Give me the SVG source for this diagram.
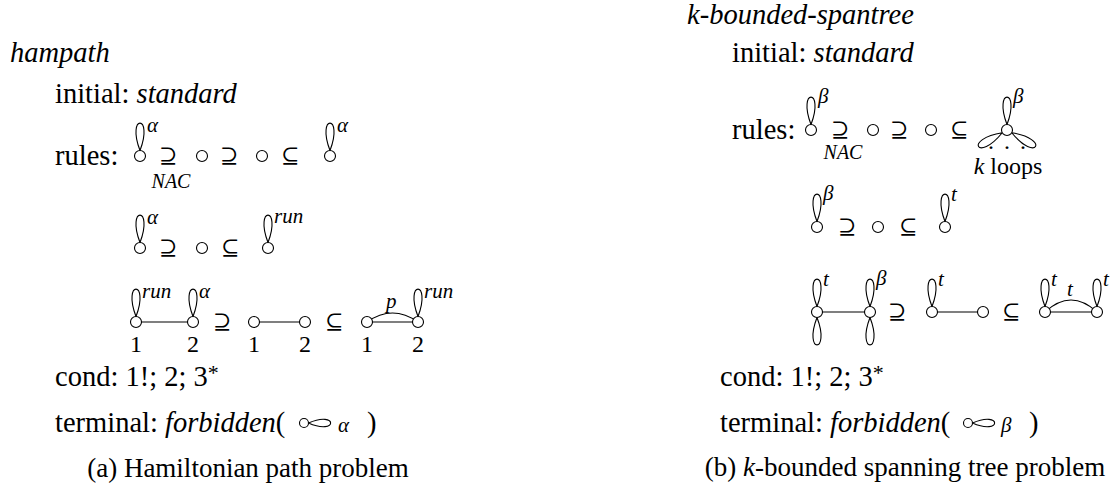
<svg xmlns="http://www.w3.org/2000/svg" xmlns:xlink="http://www.w3.org/1999/xlink" width="1112" height="490" viewBox="0 0 1112 490">
<style>
.t{font-family:"Liberation Serif","DejaVu Serif",serif;font-size:28.5px;fill:#000}
.i{font-style:italic}
.s{font-family:"Liberation Serif","DejaVu Serif",serif;font-size:21px;font-style:italic;fill:#000}
.n{font-family:"Liberation Serif","DejaVu Serif",serif;font-size:24px;fill:#000;text-anchor:middle}
.r{font-family:"DejaVu Serif",serif;font-size:22px;fill:#000}
.nac{font-family:"Liberation Serif",serif;font-size:20px;font-style:italic;fill:#000;text-anchor:middle}
.cap{font-family:"Liberation Serif",serif;font-size:27px;fill:#000;text-anchor:middle}
.v{fill:#fff;stroke:#000;stroke-width:1.1}
.e{fill:none;stroke:#000;stroke-width:1.1}
</style>
<defs>
<path id="pt" d="M0,-5.5 C-14,-42 14,-42 0,-5.5" fill="none" stroke="#000" stroke-width="1.1"/>
<path id="ph" d="M4.5,0 C34,-13 34,13 4.5,0" fill="none" stroke="#000" stroke-width="1.1"/>
</defs>

<!-- LEFT PANEL -->
<text class="t i" x="10" y="62">hampath</text>
<text class="t" x="55" y="103">initial: <tspan class="i">standard</tspan></text>
<text class="t" x="55" y="165">rules:</text>

<g id="connectors-left">
<line class="e" x1="136" y1="322" x2="193" y2="322"/>
<line class="e" x1="254" y1="322" x2="305" y2="322"/>
<line class="e" x1="367" y1="322" x2="418" y2="322"/>
<path class="e" d="M367,322 Q392.5,304 418,322"/>
</g>

<!-- rule 1 -->
<g id="l-r1-v1"><use xlink:href="#pt" x="140" y="156"/><circle class="v" cx="140" cy="156" r="5.5"/><text class="s" x="147" y="132">α</text></g>
<g id="l-r1-sup"><text class="r" x="159" y="163">⊇</text><text class="nac" x="171" y="188">NAC</text></g>
<g id="l-r1-v2"><circle class="v" cx="202" cy="156" r="5.5"/></g>
<g id="l-r1-sup2"><text class="r" x="220" y="163">⊇</text></g>
<g id="l-r1-v3"><circle class="v" cx="262" cy="156" r="5.5"/></g>
<g id="l-r1-sub"><text class="r" x="281" y="163">⊆</text></g>
<g id="l-r1-v4"><use xlink:href="#pt" x="330" y="156"/><circle class="v" cx="330" cy="156" r="5.5"/><text class="s" x="337" y="132">α</text></g>

<!-- rule 2 -->
<g id="l-r2-v1"><use xlink:href="#pt" x="140" y="248"/><circle class="v" cx="140" cy="248" r="5.5"/><text class="s" x="147" y="224">α</text></g>
<g id="l-r2-sup"><text class="r" x="159" y="255">⊇</text></g>
<g id="l-r2-v2"><circle class="v" cx="202" cy="248" r="5.5"/></g>
<g id="l-r2-sub"><text class="r" x="221" y="255">⊆</text></g>
<g id="l-r2-v3"><use xlink:href="#pt" x="268" y="248"/><circle class="v" cx="268" cy="248" r="5.5"/><text class="s" x="274" y="223">run</text></g>

<!-- rule 3 -->
<g id="l-r3-v1"><use xlink:href="#pt" x="136" y="322"/><circle class="v" cx="136" cy="322" r="5.5"/><text class="s" x="142" y="298">run</text><text class="n" x="136" y="352">1</text></g>
<g id="l-r3-v2"><use xlink:href="#pt" x="193" y="322"/><circle class="v" cx="193" cy="322" r="5.5"/><text class="s" x="199" y="298">α</text><text class="n" x="193" y="352">2</text></g>
<g id="l-r3-sup"><text class="r" x="213" y="329">⊇</text></g>
<g id="l-r3-v3"><circle class="v" cx="254" cy="322" r="5.5"/><text class="n" x="254" y="352">1</text></g>
<g id="l-r3-v4"><circle class="v" cx="305" cy="322" r="5.5"/><text class="n" x="305" y="352">2</text></g>
<g id="l-r3-sub"><text class="r" x="325" y="329">⊆</text></g>
<g id="l-r3-v5"><circle class="v" cx="367" cy="322" r="5.5"/><text class="n" x="367" y="352">1</text></g>
<g id="l-r3-v6"><use xlink:href="#pt" x="418" y="322"/><circle class="v" cx="418" cy="322" r="5.5"/><text class="s" x="424" y="298">run</text><text class="n" x="418" y="352">2</text></g>
<text class="s" x="386" y="308">p</text>

<text class="t" x="55" y="386">cond: 1!; 2; 3<tspan dy="-6" font-size="22">*</tspan></text>
<text class="t" x="55" y="432">terminal: <tspan class="i">forbidden</tspan>(</text>
<g id="l-term"><use xlink:href="#ph" x="304" y="423"/><circle class="v" cx="304" cy="423" r="4.5"/><text class="s" x="338" y="432" font-size="24">α</text><text class="t" x="367" y="432">)</text></g>
<text class="cap" x="248" y="477">(a) Hamiltonian path problem</text>

<!-- RIGHT PANEL -->
<text class="t i" x="687" y="24">k-bounded-spantree</text>
<text class="t" x="732" y="62">initial: <tspan class="i">standard</tspan></text>
<text class="t" x="732" y="139">rules:</text>

<g id="connectors-right">
<line class="e" x1="817" y1="312" x2="870" y2="312"/>
<line class="e" x1="932" y1="312" x2="983" y2="312"/>
<line class="e" x1="1045" y1="312" x2="1097" y2="312"/>
<path class="e" d="M1045,312 Q1071,288 1097,312"/>
</g>

<!-- rule 1 -->
<g id="r-r1-v1"><use xlink:href="#pt" x="811" y="130"/><circle class="v" cx="811" cy="130" r="5.5"/><text class="s" x="818" y="103">β</text></g>
<g id="r-r1-sup"><text class="r" x="831" y="137">⊇</text><text class="nac" x="843" y="159">NAC</text></g>
<g id="r-r1-v2"><circle class="v" cx="873" cy="130" r="5.5"/></g>
<g id="r-r1-sup2"><text class="r" x="890" y="137">⊇</text></g>
<g id="r-r1-v3"><circle class="v" cx="931" cy="130" r="5.5"/></g>
<g id="r-r1-sub"><text class="r" x="950" y="137">⊆</text></g>
<g id="r-r1-star"><use xlink:href="#pt" transform="translate(1007,130)"/><use xlink:href="#pt" transform="translate(1007,130) rotate(120)"/><use xlink:href="#pt" transform="translate(1007,130) rotate(240)"/><circle class="v" cx="1007" cy="130" r="5.5"/><text class="s" x="1013" y="103">β</text><text class="n" x="1008" y="149" font-size="16" letter-spacing="2">. . .</text><text class="n" x="1008" y="174" font-size="21"><tspan font-style="italic">k</tspan> loops</text></g>

<!-- rule 2 -->
<g id="r-r2-v1"><use xlink:href="#pt" x="817" y="227"/><circle class="v" cx="817" cy="227" r="5.5"/><text class="s" x="823" y="200">β</text></g>
<g id="r-r2-sup"><text class="r" x="838" y="234">⊇</text></g>
<g id="r-r2-v2"><circle class="v" cx="878" cy="227" r="5.5"/></g>
<g id="r-r2-sub"><text class="r" x="899" y="234">⊆</text></g>
<g id="r-r2-v3"><use xlink:href="#pt" x="945" y="227"/><circle class="v" cx="945" cy="227" r="5.5"/><text class="s" x="951" y="201">t</text></g>

<!-- rule 3 -->
<g id="r-r3-v1"><use xlink:href="#pt" x="817" y="312"/><use xlink:href="#pt" transform="translate(817,312) rotate(180)"/><circle class="v" cx="817" cy="312" r="5.5"/><text class="s" x="823" y="286">t</text></g>
<g id="r-r3-v2"><use xlink:href="#pt" x="870" y="312"/><use xlink:href="#pt" transform="translate(870,312) rotate(180)"/><circle class="v" cx="870" cy="312" r="5.5"/><text class="s" x="876" y="285">β</text></g>
<g id="r-r3-sup"><text class="r" x="888" y="319">⊇</text></g>
<g id="r-r3-v3"><use xlink:href="#pt" x="932" y="312"/><circle class="v" cx="932" cy="312" r="5.5"/><text class="s" x="938" y="286">t</text></g>
<g id="r-r3-v4"><circle class="v" cx="983" cy="312" r="5.5"/></g>
<g id="r-r3-sub"><text class="r" x="1002" y="319">⊆</text></g>
<g id="r-r3-v5"><use xlink:href="#pt" x="1045" y="312"/><circle class="v" cx="1045" cy="312" r="5.5"/><text class="s" x="1051" y="286">t</text></g>
<g id="r-r3-v6"><use xlink:href="#pt" x="1097" y="312"/><circle class="v" cx="1097" cy="312" r="5.5"/><text class="s" x="1103" y="286">t</text></g>
<text class="s" x="1067" y="296">t</text>

<text class="t" x="720" y="386">cond: 1!; 2; 3<tspan dy="-6" font-size="22">*</tspan></text>
<text class="t" x="720" y="432">terminal: <tspan class="i">forbidden</tspan>(</text>
<g id="r-term"><use xlink:href="#ph" x="968" y="423"/><circle class="v" cx="968" cy="423" r="4.5"/><text class="s" x="1001" y="432" font-size="24">β</text><text class="t" x="1029" y="432">)</text></g>
<text class="cap" x="905" y="476">(b) <tspan font-style="italic">k</tspan>-bounded spanning tree problem</text>
</svg>
